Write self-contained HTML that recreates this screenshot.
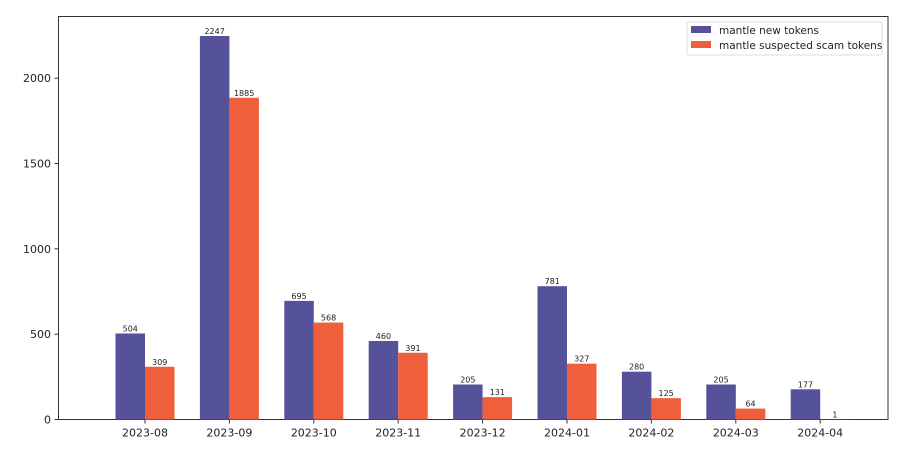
<!DOCTYPE html>
<html><head><meta charset="utf-8"><style>
body{margin:0;background:#fff;font-family:"Liberation Sans","DejaVu Sans",sans-serif}
svg text{font-family:"DejaVu Sans","Liberation Sans",sans-serif}
</style></head><body>
<svg id="chart" width="904" height="447">
<rect x="58.5" y="16.5" width="829.5" height="403" fill="none" stroke="#333" stroke-width="1"/>
<g id="bars"></g><g id="axes"></g>
<g>
<rect x="687" y="22" width="195" height="33" fill="#fff" stroke="#ddd" rx="2"/>
<rect x="691" y="26" width="20" height="7" fill="#55529a"/>
<text x="719" y="34" font-size="10.5" fill="#222">mantle new tokens</text>
<rect x="691" y="41" width="20" height="7" fill="#f05f3b"/>
<text x="719" y="49" font-size="10.5" fill="#222">mantle suspected scam tokens</text>
</g>
</svg>
<script>
const categories=["2023-08","2023-09","2023-10","2023-11","2023-12","2024-01","2024-02","2024-03","2024-04"];
const newTokens=[504,2247,695,460,205,781,280,205,177];
const scamTokens=[309,1885,568,391,131,327,125,64,1];
const yTicks=[0,500,1000,1500,2000];
const NS="http://www.w3.org/2000/svg";
const x0=145,step=84.4,bw=29.5,yBase=419.5,scale=(419.5-36)/2247;
const xs=i=>x0+i*step, ys=v=>yBase-v*scale;
const bars=document.getElementById('bars'),axes=document.getElementById('axes');
function mk(t,a,p){const e=document.createElementNS(NS,t);for(const k in a)e.setAttribute(k,a[k]);p.appendChild(e);return e;}
categories.forEach((c,i)=>{
 [[newTokens,'#55529a',-bw,'new'],[scamTokens,'#f05f3b',0,'scam']].forEach(([arr,col,off,nm])=>{
  const v=arr[i];
  const r=mk('rect',{x:xs(i)+off,y:ys(v),width:bw,height:yBase-ys(v),fill:col},bars);
  
  
  const t=mk('text',{x:xs(i)+off+bw/2,y:ys(v)-2,'font-size':8,'text-anchor':'middle',fill:'#222'},bars);
  t.textContent=v;
  
  
 });
 mk('line',{x1:xs(i),x2:xs(i),y1:yBase,y2:yBase+4,stroke:'#333'},axes);
 const t=mk('text',{x:xs(i),y:yBase+17,'font-size':11,'text-anchor':'middle',fill:'#222'},axes);
 t.textContent=c;
 
 
});
yTicks.forEach(v=>{
 mk('line',{x1:54.5,x2:58.5,y1:ys(v),y2:ys(v),stroke:'#333'},axes);
 const t=mk('text',{x:51,y:ys(v)+4,'font-size':11,'text-anchor':'end',fill:'#222'},axes);
 t.textContent=v;
 
 
});
</script>
</body></html>
